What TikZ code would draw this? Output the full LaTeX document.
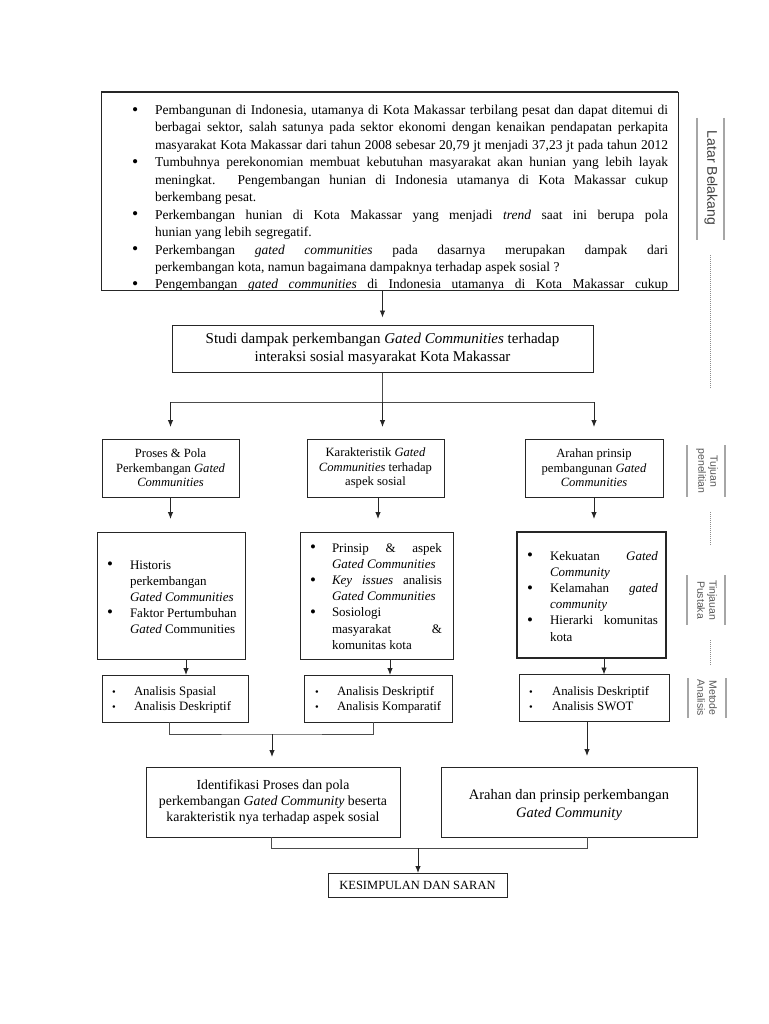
\documentclass[tikz,border=0pt]{standalone}
\usepackage{fontspec}
\setmainfont{Liberation Serif}
\newfontfamily\lsans{Liberation Sans}
\usetikzlibrary{arrows.meta}
\newcommand{\fs}[2]{\fontsize{#1}{#2}\selectfont}
\newcommand{\bul}{\raisebox{-0.05em}{\scalebox{1.3}{\textbullet}}}
\newcommand{\bi}[2]{\hbox{\makebox[#1][l]{\bul}#2}}
\newcommand{\ci}[2]{\hbox{\hspace{#1}#2}}
\newcommand{\sbi}[2]{\hbox{\makebox[#1][l]{\fs{10.5}{10}\textbullet}#2}}
\begin{document}
\begin{tikzpicture}[x=1pt,y=-1pt,
  box/.style={draw=black!85, line width=0.9pt, inner sep=0pt, outer sep=0pt},
  txt/.style={inner sep=0pt, outer sep=0pt, anchor=base west},
  arr/.style={draw=black!85, line width=0.9pt, -{Latex[length=7pt,width=5.5pt]}},
  ln/.style={draw=black!70, line width=0.9pt},
  side/.style={draw=black!35, line width=1.1pt},
  dots/.style={draw=black!45, line width=0.8pt, dash pattern=on 0.8pt off 1.2pt},
  lab/.style={rotate=-90, text=black!75, font=\lsans\fs{14}{16}, align=center, inner sep=0pt},
  labs/.style={rotate=-90, text=black!65, font=\lsans\fs{10.5}{12}, align=center, inner sep=0pt}]
\fill[white] (0,0) rectangle (768,1024);
\useasboundingbox (0,0) rectangle (768,1024);

% ---------- top box ----------
\begin{scope}
\clip (101,92) rectangle (678,290);
\node[txt, font=\fs{13.5}{17.45}] (bgtext) at (132,114.5) {\vtop{\hsize=540pt\parindent=0pt\baselineskip=17.45pt\lineskiplimit=-20pt
\bi{23pt}{\makebox[513pt][s]{Pembangunan di Indonesia, utamanya di Kota Makassar terbilang pesat dan dapat ditemui di}}
\ci{23pt}{\makebox[513pt][s]{berbagai sektor, salah satunya pada sektor ekonomi dengan kenaikan pendapatan perkapita}}
\ci{23pt}{\makebox[513pt][s]{masyarakat Kota Makassar dari tahun 2008 sebesar 20,79 jt menjadi 37,23 jt pada tahun 2012}}
\bi{23pt}{\makebox[513pt][s]{Tumbuhnya perekonomian membuat kebutuhan masyarakat akan hunian yang lebih layak}}
\ci{23pt}{\makebox[513pt][s]{meningkat. Pengembangan hunian di Indonesia utamanya di Kota Makassar cukup}}
\ci{23pt}{berkembang pesat.}
\bi{23pt}{\makebox[513pt][s]{Perkembangan hunian di Kota Makassar yang menjadi \textit{trend} saat ini berupa pola}}
\ci{23pt}{hunian yang lebih segregatif.}
\bi{23pt}{\makebox[513pt][s]{Perkembangan \textit{gated communities} pada dasarnya merupakan dampak dari}}
\ci{23pt}{perkembangan kota, namun bagaimana dampaknya terhadap aspek sosial ?}
\bi{23pt}{\makebox[513pt][s]{Pengembangan \textit{gated communities} di Indonesia utamanya di Kota Makassar cukup}}
}};
\end{scope}
\node[box, minimum width=577pt, minimum height=198pt] (bg) at (389.5,191) {};
\draw[line width=1.6pt, black!85] (bg.north west) -- (bg.north east);

% ---------- study box ----------
\node[box, minimum width=421pt, minimum height=47pt, align=center, font=\fs{15}{17.5}] (studi) at (382.5,349)
  {Studi dampak perkembangan \textit{Gated Communities} terhadap\\interaksi sosial masyarakat Kota Makassar};

% ---------- row 1 ----------
\node[box, minimum width=137pt, minimum height=58pt, align=center, font=\fs{12.6}{14.5}] (b1) at (170.5,468)
  {Proses \& Pola\\Perkembangan \textit{Gated}\\\textit{Communities}};
\node[box, minimum width=137pt, minimum height=58pt, align=center, font=\fs{12.6}{14.5}] (b2) at (375.5,468)
  {Karakteristik \textit{Gated}\\\textit{Communities} terhadap\\aspek sosial};
\node[box, minimum width=138pt, minimum height=58pt, align=center, font=\fs{12.6}{14.5}] (b3) at (594,468)
  {Arahan prinsip\\pembangunan \textit{Gated}\\\textit{Communities}};

% ---------- row 2 ----------
\node[box, minimum width=148pt, minimum height=127pt] (c1) at (171,595.5) {};
\node[box, minimum width=153pt, minimum height=127pt] (c2) at (376.5,595.5) {};
\node[box, minimum width=149pt, minimum height=126pt, line width=1.3pt] (c3) at (591.5,595) {};
\node[txt, font=\fs{13}{16}] (c1t) at (107,569) {\vtop{\parindent=0pt\baselineskip=16pt\lineskiplimit=-20pt
\bi{23pt}{Historis}
\ci{23pt}{perkembangan}
\ci{23pt}{\textit{Gated Communities}}
\bi{23pt}{Faktor Pertumbuhan}
\ci{23pt}{\textit{Gated} Communities}}};
\node[txt, font=\fs{13}{16.2}] (c2t) at (310,552) {\vtop{\parindent=0pt\baselineskip=16.2pt\lineskiplimit=-20pt
\bi{22pt}{\makebox[110pt][s]{Prinsip \& aspek}}
\ci{22pt}{\textit{Gated Communities}}
\bi{22pt}{\makebox[110pt][s]{\textit{Key issues} analisis}}
\ci{22pt}{\textit{Gated Communities}}
\bi{22pt}{Sosiologi}
\ci{22pt}{\makebox[110pt][s]{masyarakat \&}}
\ci{22pt}{komunitas kota}}};
\node[txt, font=\fs{13}{16.2}] (c3t) at (527,560) {\vtop{\parindent=0pt\baselineskip=16.2pt\lineskiplimit=-20pt
\bi{23pt}{\makebox[108pt][s]{Kekuatan \textit{Gated}}}
\ci{23pt}{\textit{Community}}
\bi{23pt}{\makebox[108pt][s]{Kelamahan \textit{gated}}}
\ci{23pt}{\textit{community}}
\bi{23pt}{\makebox[108pt][s]{Hierarki komunitas}}
\ci{23pt}{kota}}};

% ---------- row 3 ----------
\node[box, minimum width=146pt, minimum height=47pt] (d1) at (175,698.5) {};
\node[box, minimum width=148pt, minimum height=47pt] (d2) at (378,698.5) {};
\node[box, minimum width=150pt, minimum height=47pt] (d3) at (594,698) {};
\node[txt, font=\fs{12.8}{15}] (d1t) at (112,695) {\vtop{\parindent=0pt\baselineskip=15pt\lineskiplimit=-20pt
\sbi{22pt}{Analisis Spasial}
\sbi{22pt}{Analisis Deskriptif}}};
\node[txt, font=\fs{12.8}{15}] (d2t) at (315,695) {\vtop{\parindent=0pt\baselineskip=15pt\lineskiplimit=-20pt
\sbi{22pt}{Analisis Deskriptif}
\sbi{22pt}{Analisis Komparatif}}};
\node[txt, font=\fs{12.8}{15}] (d3t) at (529,695) {\vtop{\parindent=0pt\baselineskip=15pt\lineskiplimit=-20pt
\sbi{23pt}{Analisis Deskriptif}
\sbi{23pt}{Analisis SWOT}}};

% ---------- row 4 ----------
\node[box, minimum width=254pt, minimum height=70pt, align=center, font=\fs{13.8}{16}] (ident) at (273,802)
  {Identifikasi Proses dan pola\\perkembangan \textit{Gated Community} beserta\\karakteristik nya terhadap aspek sosial};
\node[box, minimum width=256pt, minimum height=70pt] (arahan) at (569,802) {};
\node[align=center, font=\fs{14.5}{18}, inner sep=0pt] (arahant) at (569,805.5)
  {Arahan dan prinsip perkembangan\\\textit{Gated Community}};

% ---------- final ----------
\node[box, minimum width=179pt, minimum height=24pt, font=\fs{12.5}{14}] (kes) at (417.5,885) {KESIMPULAN DAN SARAN};

% ---------- connectors ----------
\draw[arr, shorten >=8pt] (studi.north |- bg.south) -- (studi.north);
\coordinate (split1) at (382.5,402);
\draw[ln] (studi.south) -- (split1);
\draw[ln] (split1 -| b1.north) -- (split1 -| b3.north);
\draw[arr, shorten >=12pt] (split1 -| b1.north) -- (b1.north);
\draw[arr, shorten >=12pt] (split1) -- (split1 |- b2.north);
\draw[arr, shorten >=12pt] (split1 -| b3.north) -- (b3.north);

\draw[arr, shorten >=13pt] (b1.south) -- (b1.south |- c1.north);
\coordinate (k2) at (378,0);
\draw[arr, shorten >=13pt] (k2 |- b2.south) -- (k2 |- c2.north);
\draw[arr, shorten >=13pt] (b3.south) -- (b3.south |- c3.north);

\coordinate (k1) at (186,0);
\coordinate (k3) at (390,0);
\coordinate (k4) at (604,0);
\draw[arr] (k1 |- c1.south) -- (k1 |- d1.north);
\draw[arr] (k3 |- c2.south) -- (k3 |- d2.north);
\draw[arr] (k4 |- c3.south) -- (k4 |- d3.north);

\coordinate (j1) at (169,0);
\coordinate (j2) at (373,0);
\coordinate (m1) at (272,734);
\draw[ln] (j1 |- d1.south) |- (m1) -| (j2 |- d2.south);
\draw[arr, shorten >=10pt] (m1) -- (m1 |- ident.north);
\coordinate (j3) at (587,0);
\draw[arr, shorten >=11pt] (j3 |- d3.south) -- (j3 |- arahan.north);

\coordinate (j4) at (271,0);
\coordinate (j5) at (587,0);
\coordinate (m2) at (418,848);
\draw[ln] (j4 |- ident.south) |- (m2) -| (j5 |- arahan.south);
\draw[arr] (m2) -- (m2 |- kes.north);

% ---------- side labels ----------
\node[lab] (lb1) at (711,178) {Latar Belakang};
\draw[side] (697,118) -- (697,240);
\draw[side] (724,118) -- (724,240);
\draw[dots] (710,255) -- (710,388);
\node[labs] (lb2) at (707,471) {Tujuan\\penelitian};
\draw[side] (687,445) -- (687,497);
\draw[side] (725,445) -- (725,497);
\draw[dots] (710,512) -- (710,545);
\node[labs] (lb3) at (707,600) {Tinjauan\\Pustaka};
\draw[side] (687,575) -- (687,625);
\draw[side] (725,575) -- (725,625);
\draw[dots] (710,640) -- (710,665);
\node[labs] (lb4) at (707,698) {Metode\\Analisis};
\draw[side] (688,678) -- (688,718);
\draw[side] (726,678) -- (726,718);
\end{tikzpicture}
\end{document}
